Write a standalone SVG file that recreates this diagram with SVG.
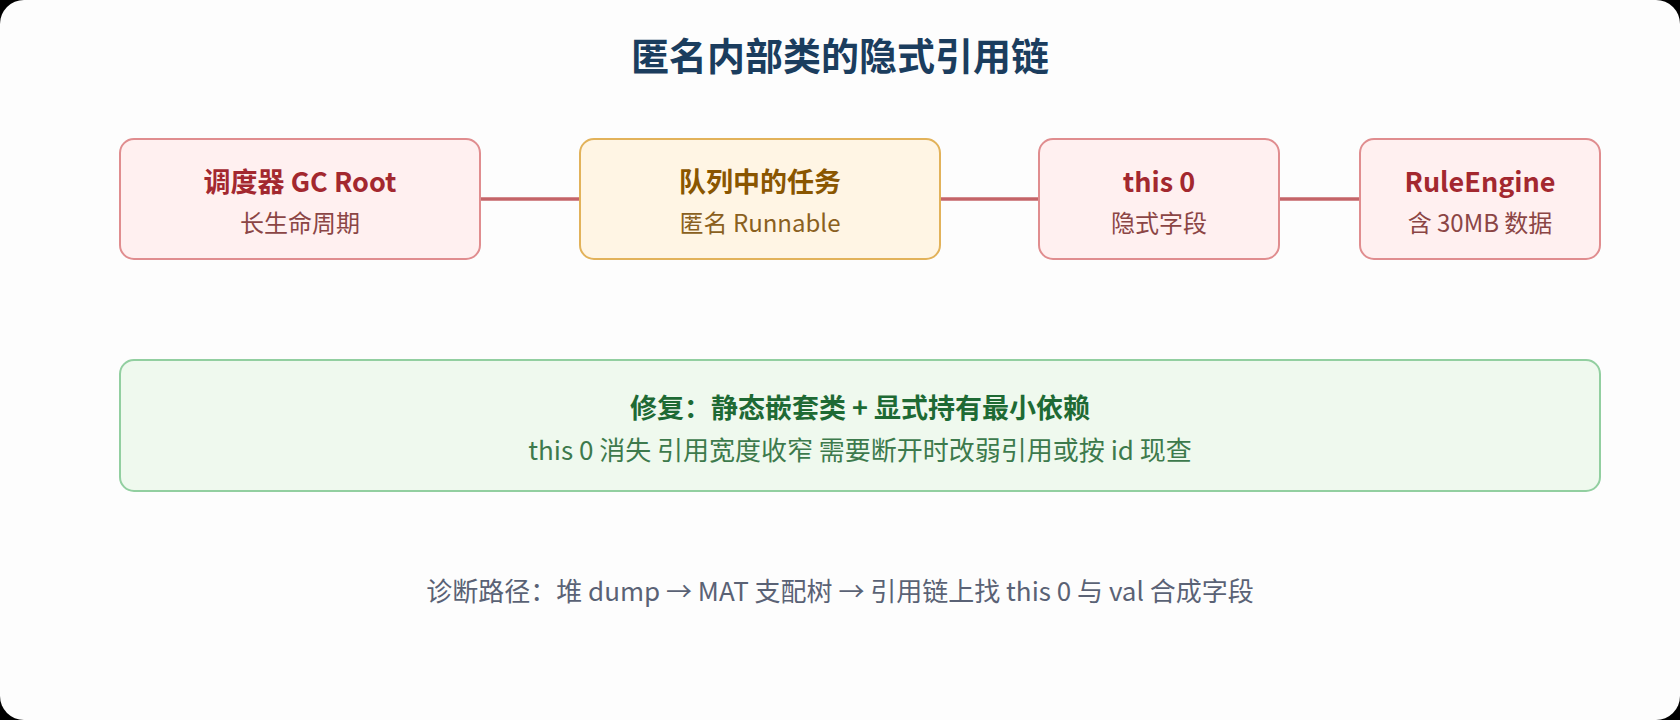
<svg xmlns="http://www.w3.org/2000/svg" width="1680" height="720" viewBox="0 0 1680 720">
<style>
text{font-family:"Noto Sans CJK SC","Noto Sans",sans-serif;text-anchor:middle}
.red rect{fill:#fff0f0;stroke:#e08d8f;stroke-width:2}
.red .t{fill:#a3282f;font-weight:bold;font-size:27px}
.red .s{fill:#8b4545;font-size:24px}
.yel rect{fill:#fff5e4;stroke:#e2b25a;stroke-width:2}
.yel .t{fill:#8a5600;font-weight:bold;font-size:27px}
.yel .s{fill:#8a6020;font-size:24px}
.conn line{stroke:#c46468;stroke-width:3.5}
</style>
<rect x="0" y="0" width="1680" height="720" fill="#000"/>
<rect x="0" y="0" width="1680" height="720" rx="24" fill="#fdfdfd"/>
<text x="840" y="70" font-size="38" font-weight="bold" fill="#1b3d5e">匿名内部类的隐式引用链</text>
<g class="conn">
<line x1="480" y1="199" x2="580" y2="199"/>
<line x1="940" y1="199" x2="1039" y2="199"/>
<line x1="1279" y1="199" x2="1360" y2="199"/>
</g>
<g id="n1" class="red"><rect x="120" y="139" width="360" height="120" rx="14"/><text class="t" x="300" y="192">调度器 GC Root</text><text class="s" x="300" y="232">长生命周期</text></g>
<g id="n2" class="yel"><rect x="580" y="139" width="360" height="120" rx="14"/><text class="t" x="760" y="192">队列中的任务</text><text class="s" x="760" y="232">匿名 Runnable</text></g>
<g id="n3" class="red"><rect x="1039" y="139" width="240" height="120" rx="14"/><text class="t" x="1159" y="192">this 0</text><text class="s" x="1159" y="232">隐式字段</text></g>
<g id="n4" class="red"><rect x="1360" y="139" width="240" height="120" rx="14"/><text class="t" x="1480" y="192">RuleEngine</text><text class="s" x="1480" y="232">含 30MB 数据</text></g>
<g id="fix"><rect x="120" y="360" width="1480" height="131" rx="14" fill="#eff9ee" stroke="#92cfa0" stroke-width="2"/>
<text x="860" y="418" font-size="27" font-weight="bold" fill="#1e6a34">修复：静态嵌套类 + 显式持有最小依赖</text>
<text x="860" y="460" font-size="26" fill="#3d7a4c">this 0 消失 引用宽度收窄 需要断开时改弱引用或按 id 现查</text></g>
<text x="840" y="601" font-size="26" fill="#5a6275">诊断路径：堆 dump → MAT 支配树 → 引用链上找 this 0 与 val 合成字段</text>
</svg>
